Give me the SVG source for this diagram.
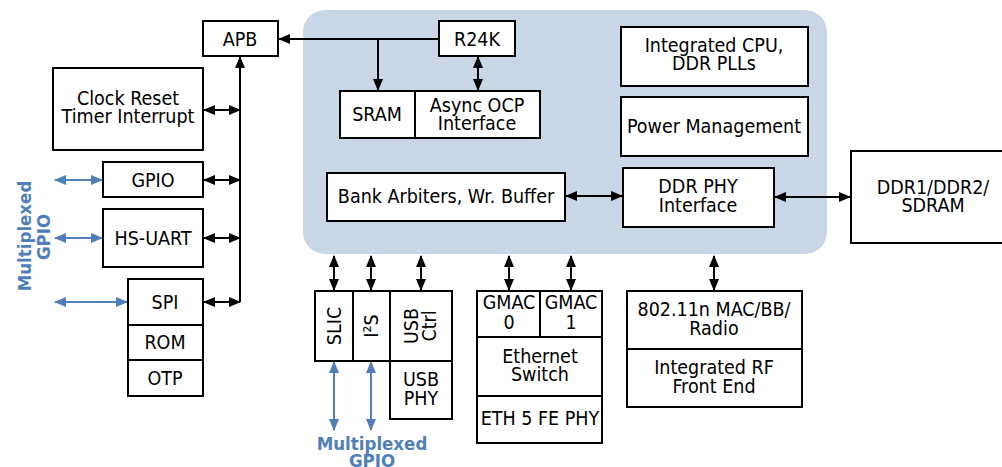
<svg xmlns="http://www.w3.org/2000/svg" width="1002" height="467" viewBox="0 0 1002 467">
<defs>
<style>
.box{fill:#fff;stroke:#000;stroke-width:2}
.t{font-family:"DejaVu Sans Condensed","DejaVu Sans",sans-serif;font-size:19.5px;fill:#000;text-anchor:middle}
.b{font-family:"DejaVu Sans Condensed","DejaVu Sans",sans-serif;font-size:18.5px;font-weight:bold;fill:#4f7fb8;text-anchor:middle}
.k{stroke:#000;stroke-width:2;fill:none}
.bl{stroke:#4f7fb8;stroke-width:2;fill:none}
</style>
<marker id="ah" markerUnits="userSpaceOnUse" markerWidth="12" markerHeight="10" refX="11" refY="5" orient="auto-start-reverse" viewBox="0 0 12 10"><path d="M0,0 L12,5 L0,10 z" fill="#000"/></marker>
<marker id="bh" markerUnits="userSpaceOnUse" markerWidth="12" markerHeight="10" refX="11" refY="5" orient="auto-start-reverse" viewBox="0 0 12 10"><path d="M0,0 L12,5 L0,10 z" fill="#4f7fb8"/></marker>
</defs>
<rect x="0" y="0" width="1002" height="467" fill="#fff"/>
<rect id="soc" x="303" y="10" width="524" height="244" rx="22" fill="#c9d6e6"/>

<g id="connectors">
<line class="k" x1="440" y1="39" x2="279" y2="39" marker-end="url(#ah)"/>
<line class="k" x1="240" y1="302" x2="240" y2="57" marker-end="url(#ah)"/>
<line class="k" x1="378" y1="39" x2="378" y2="90" marker-end="url(#ah)"/>
<line class="k" x1="478" y1="57" x2="478" y2="90" marker-start="url(#ah)" marker-end="url(#ah)"/>
<line class="k" x1="204" y1="110" x2="240" y2="110" marker-start="url(#ah)" marker-end="url(#ah)"/>
<line class="k" x1="204" y1="180" x2="240" y2="180" marker-start="url(#ah)" marker-end="url(#ah)"/>
<line class="k" x1="204" y1="238" x2="240" y2="238" marker-start="url(#ah)" marker-end="url(#ah)"/>
<line class="k" x1="204" y1="302" x2="240" y2="302" marker-start="url(#ah)" marker-end="url(#ah)"/>
<line class="bl" x1="55" y1="180" x2="102" y2="180" marker-start="url(#bh)" marker-end="url(#bh)"/>
<line class="bl" x1="55" y1="238" x2="102" y2="238" marker-start="url(#bh)" marker-end="url(#bh)"/>
<line class="bl" x1="55" y1="302" x2="127" y2="302" marker-start="url(#bh)" marker-end="url(#bh)"/>
<line class="k" x1="566" y1="196" x2="622" y2="196" marker-start="url(#ah)" marker-end="url(#ah)"/>
<line class="k" x1="775" y1="197" x2="850" y2="197" marker-start="url(#ah)" marker-end="url(#ah)"/>
<line class="k" x1="334" y1="256" x2="334" y2="290" marker-start="url(#ah)" marker-end="url(#ah)"/>
<line class="k" x1="371" y1="256" x2="371" y2="290" marker-start="url(#ah)" marker-end="url(#ah)"/>
<line class="k" x1="421" y1="256" x2="421" y2="290" marker-start="url(#ah)" marker-end="url(#ah)"/>
<line class="k" x1="509" y1="256" x2="509" y2="290" marker-start="url(#ah)" marker-end="url(#ah)"/>
<line class="k" x1="571" y1="256" x2="571" y2="290" marker-start="url(#ah)" marker-end="url(#ah)"/>
<line class="k" x1="714" y1="256" x2="714" y2="290" marker-start="url(#ah)" marker-end="url(#ah)"/>
<line class="bl" x1="334" y1="362" x2="334" y2="430" marker-start="url(#bh)" marker-end="url(#bh)"/>
<line class="bl" x1="371" y1="362" x2="371" y2="430" marker-start="url(#bh)" marker-end="url(#bh)"/>
</g>

<g id="apb"><rect class="box" x="203" y="21" width="75" height="35"/><text class="t" x="240" y="46">APB</text></g>
<g id="clock"><rect class="box" x="53" y="68" width="150" height="82"/><text class="t" x="128" y="105">Clock Reset</text><text class="t" x="128" y="123">Timer Interrupt</text></g>
<g id="gpio"><rect class="box" x="103" y="162" width="100" height="35"/><text class="t" x="153" y="187">GPIO</text></g>
<g id="uart"><rect class="box" x="103" y="209" width="100" height="58"/><text class="t" x="153" y="245">HS-UART</text></g>
<g id="spi"><rect class="box" x="128" y="279" width="75" height="46"/><text class="t" x="165" y="309">SPI</text></g>
<g id="rom"><rect class="box" x="128" y="325" width="75" height="35"/><text class="t" x="165" y="349">ROM</text></g>
<g id="otp"><rect class="box" x="128" y="360" width="75" height="36"/><text class="t" x="165" y="385">OTP</text></g>
<g id="gpio-left"><text class="b" transform="translate(31,236) rotate(-90)">Multiplexed</text><text class="b" transform="translate(50,237) rotate(-90)">GPIO</text></g>

<g id="r24k"><rect class="box" x="439" y="21" width="76" height="35"/><text class="t" x="477" y="46">R24K</text></g>
<g id="sram"><rect class="box" x="340" y="91" width="75" height="47"/><text class="t" x="377" y="121">SRAM</text></g>
<g id="ocp"><rect class="box" x="415" y="91" width="125" height="47"/><text class="t" x="477" y="112">Async OCP</text><text class="t" x="477" y="130">Interface</text></g>
<g id="cpu"><rect class="box" x="621" y="27" width="187" height="59"/><text class="t" x="714" y="52">Integrated CPU,</text><text class="t" x="714" y="70">DDR PLLs</text></g>
<g id="pm"><rect class="box" x="621" y="97" width="187" height="59"/><text class="t" x="714" y="133">Power Management</text></g>
<g id="bank"><rect class="box" x="327" y="173" width="238" height="48"/><text class="t" x="446" y="203">Bank Arbiters, Wr. Buffer</text></g>
<g id="ddrphy"><rect class="box" x="623" y="168" width="151" height="59"/><text class="t" x="698" y="193">DDR PHY</text><text class="t" x="698" y="212">Interface</text></g>
<g id="ddr"><rect class="box" x="851" y="151" width="160" height="92"/><text class="t" x="933" y="194">DDR1/DDR2/</text><text class="t" x="933" y="212">SDRAM</text></g>

<g id="slic"><rect class="box" x="315" y="291" width="38" height="70"/><text class="t" transform="translate(341,326) rotate(-90)">SLIC</text></g>
<g id="i2s"><rect class="box" x="353" y="291" width="37" height="70"/><text class="t" transform="translate(378,326) rotate(-90)">I²S</text></g>
<g id="usbctrl"><rect class="box" x="390" y="291" width="62" height="70"/><text class="t" transform="translate(418,326) rotate(-90)">USB</text><text class="t" transform="translate(436,326) rotate(-90)">Ctrl</text></g>
<g id="usbphy"><rect class="box" x="390" y="361" width="62" height="58"/><text class="t" x="421" y="386">USB</text><text class="t" x="421" y="405">PHY</text></g>
<g id="gpio-bottom"><text class="b" x="372" y="450">Multiplexed</text><text class="b" x="372" y="467">GPIO</text></g>

<g id="gmac0"><rect class="box" x="477" y="291" width="63" height="46"/><text class="t" x="509" y="309">GMAC</text><text class="t" x="509" y="329">0</text></g>
<g id="gmac1"><rect class="box" x="540" y="291" width="62" height="46"/><text class="t" x="571" y="309">GMAC</text><text class="t" x="571" y="329">1</text></g>
<g id="switch"><rect class="box" x="477" y="337" width="125" height="59"/><text class="t" x="540" y="363">Ethernet</text><text class="t" x="540" y="381">Switch</text></g>
<g id="ethphy"><rect class="box" x="477" y="396" width="125" height="47"/><text class="t" x="540" y="425">ETH 5 FE PHY</text></g>

<g id="radio"><rect class="box" x="627" y="291" width="175" height="58"/><text class="t" x="714" y="316">802.11n MAC/BB/</text><text class="t" x="714" y="335">Radio</text></g>
<g id="rf"><rect class="box" x="627" y="349" width="175" height="58"/><text class="t" x="714" y="374">Integrated RF</text><text class="t" x="714" y="393">Front End</text></g>
</svg>
